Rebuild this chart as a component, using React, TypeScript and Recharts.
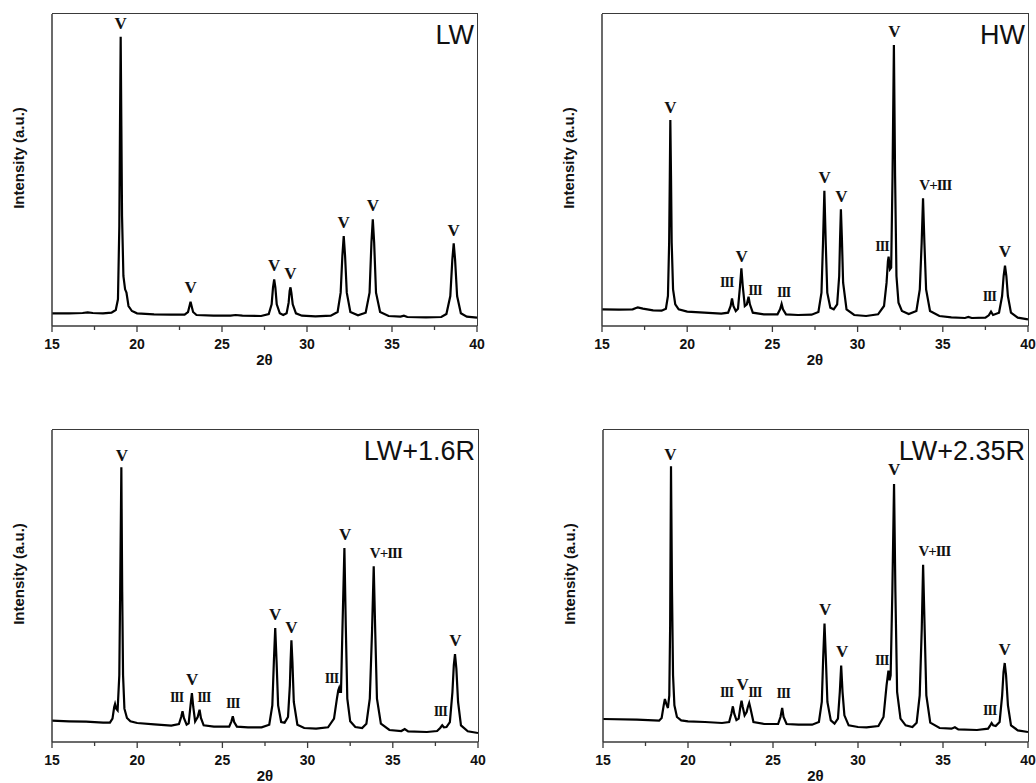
import React from 'react';
import { ComposedChart, Line, Scatter, XAxis, YAxis, ReferenceArea, Label } from 'recharts';

type Pt = [number, number];
type Mark = [number, number, string];

// Intensity in arbitrary units (0..936 spans the plot height)
const lwCurve: Pt[] = [
  [15, 38], [16, 38], [16.8, 39], [17.1, 41], [17.4, 39], [18, 38], [18.5, 40],
  [18.75, 48], [18.88, 80], [18.96, 300], [19.0, 600], [19.04, 868], [19.08, 600], [19.12, 330], [19.2, 150],
  [19.3, 110], [19.38, 100], [19.5, 60], [19.7, 45], [20, 38],
  [21, 35], [22, 34], [22.8, 34], [23.0, 42], [23.1, 62], [23.15, 73], [23.2, 62], [23.3, 42], [23.5, 33],
  [24.5, 31], [25.5, 31], [25.8, 33], [26.2, 31], [27.3, 30], [27.75, 36], [27.92, 65], [28.0, 115], [28.07, 140],
  [28.14, 115], [28.22, 65], [28.4, 38], [28.6, 33],
  [28.8, 38], [28.92, 70], [28.98, 105], [29.03, 116], [29.08, 100], [29.16, 65], [29.35, 38], [29.7, 31],
  [30.5, 29], [31.4, 31], [31.8, 42], [31.98, 100], [32.08, 210], [32.16, 270], [32.24, 210], [32.34, 100], [32.55, 42], [33.0, 32],
  [33.45, 40], [33.68, 100], [33.79, 250], [33.87, 320], [33.95, 250], [34.06, 100], [34.3, 42], [34.8, 30],
  [35.5, 28], [35.7, 31], [35.9, 27], [37, 26], [37.9, 27], [38.2, 36], [38.43, 90], [38.55, 200], [38.63, 248],
  [38.71, 200], [38.83, 90], [39.05, 38], [39.4, 28], [40, 25],
];

const hwCurve: Pt[] = [
  [15, 50], [16, 49], [16.8, 50], [17.1, 56], [17.4, 52], [18, 47], [18.5, 46],
  [18.75, 52], [18.87, 90], [18.94, 250], [18.98, 450], [19.01, 618], [19.05, 450], [19.09, 250], [19.17, 110],
  [19.3, 65], [19.5, 50], [20, 43], [21, 40], [22, 37],
  [22.4, 40], [22.55, 60], [22.63, 83], [22.71, 60], [22.85, 45],
  [22.98, 52], [23.1, 120], [23.18, 173], [23.26, 120], [23.38, 60],
  [23.5, 65], [23.6, 88], [23.68, 65], [23.85, 40], [24.5, 35],
  [25.3, 35], [25.45, 50], [25.54, 66], [25.62, 50], [25.8, 35], [26.5, 33], [27.3, 34],
  [27.7, 42], [27.88, 100], [27.97, 250], [28.05, 406], [28.13, 250], [28.22, 100], [28.4, 55], [28.6, 50],
  [28.8, 65], [28.92, 150], [28.97, 260], [29.02, 350], [29.08, 260], [29.15, 130], [29.35, 50], [29.8, 33],
  [30.5, 30], [31.2, 35], [31.55, 60], [31.7, 130], [31.78, 195], [31.82, 208], [31.9, 170], [31.97, 175],
  [32.05, 450], [32.13, 843], [32.2, 450], [32.28, 150], [32.4, 70], [32.6, 45], [33, 36],
  [33.45, 45], [33.65, 110], [33.76, 250], [33.84, 383], [33.92, 250], [34.02, 110], [34.25, 45], [34.8, 30],
  [35.5, 26], [36.3, 24], [36.5, 27], [36.7, 24], [37.5, 25],
  [37.7, 32], [37.83, 43], [37.95, 33],
  [38.3, 40], [38.48, 90], [38.57, 150], [38.65, 181], [38.73, 150], [38.82, 90], [39.0, 40], [39.4, 25], [40, 20],
];

const lw16Curve: Pt[] = [
  [15, 64], [16, 62], [17, 61], [18, 58], [18.4, 58],
  [18.55, 70], [18.65, 105], [18.7, 114], [18.77, 100], [18.85, 95], [18.95, 200], [19.0, 450], [19.07, 824],
  [19.12, 450], [19.17, 200], [19.25, 100], [19.4, 72], [19.6, 62], [20, 57], [21, 53], [22, 49],
  [22.45, 54], [22.58, 75], [22.66, 92], [22.74, 72], [22.9, 52],
  [23.02, 56], [23.13, 110], [23.21, 147], [23.29, 105], [23.4, 62],
  [23.55, 75], [23.66, 97], [23.74, 72], [23.9, 50], [24.5, 46],
  [25.4, 46], [25.53, 62], [25.61, 77], [25.69, 60], [25.85, 46], [26.5, 44], [27.3, 44],
  [27.75, 52], [27.93, 110], [28.02, 240], [28.1, 342], [28.18, 240], [28.27, 110], [28.45, 60], [28.65, 58],
  [28.85, 75], [28.96, 170], [29.0, 240], [29.05, 305], [29.11, 240], [29.19, 120], [29.4, 52], [29.8, 42],
  [30.5, 40], [31.2, 44], [31.55, 70], [31.72, 130], [31.8, 155], [31.85, 162], [31.9, 150], [31.96, 150],
  [32.05, 350], [32.16, 582], [32.24, 350], [32.33, 130], [32.5, 62], [32.8, 45], [33.2, 42],
  [33.45, 55], [33.65, 130], [33.78, 330], [33.88, 527], [33.97, 330], [34.07, 130], [34.3, 55], [34.8, 36],
  [35.5, 33], [35.7, 39], [35.9, 32], [37, 30], [37.6, 33],
  [37.78, 42], [37.9, 50], [38.0, 44], [38.15, 45],
  [38.35, 60], [38.5, 150], [38.58, 230], [38.65, 264], [38.73, 220], [38.83, 120], [39.0, 50], [39.4, 32], [40, 27],
];

const lw235Curve: Pt[] = [
  [15, 69], [17, 67], [18.3, 64],
  [18.45, 72], [18.57, 110], [18.64, 129], [18.72, 115], [18.82, 102], [18.9, 140], [18.95, 350], [19.0, 827],
  [19.06, 450], [19.12, 200], [19.2, 110], [19.35, 75], [19.6, 65], [20, 62], [21, 60], [22, 57],
  [22.42, 60], [22.55, 85], [22.64, 107], [22.72, 85], [22.85, 66],
  [22.98, 70], [23.08, 105], [23.15, 124], [23.22, 105], [23.33, 80], [23.45, 90],
  [23.52, 105], [23.6, 117], [23.68, 100], [23.85, 60], [24.5, 54],
  [25.3, 54], [25.44, 75], [25.54, 102], [25.62, 75], [25.8, 54], [26.5, 52], [27.3, 52],
  [27.7, 60], [27.87, 120], [27.95, 250], [28.03, 355], [28.11, 250], [28.2, 120], [28.4, 65], [28.62, 55],
  [28.82, 70], [28.93, 150], [29.01, 229], [29.09, 150], [29.2, 80], [29.45, 50], [30, 45],
  [30.5, 44], [31.2, 48], [31.5, 75], [31.68, 170], [31.79, 214], [31.86, 185], [31.92, 200],
  [32.02, 450], [32.12, 774], [32.2, 450], [32.3, 150], [32.5, 70], [32.8, 50], [33.2, 45],
  [33.45, 58], [33.63, 140], [33.75, 340], [33.83, 532], [33.92, 340], [34.02, 140], [34.25, 58], [34.8, 42],
  [35.5, 40], [35.7, 44], [35.9, 38], [37, 36], [37.65, 40],
  [37.78, 50], [37.86, 57], [37.95, 50], [38.1, 48],
  [38.33, 60], [38.48, 140], [38.56, 210], [38.63, 237], [38.71, 200], [38.82, 110], [39.0, 50], [39.4, 35], [40, 30],
];

// Phase labels: [2θ, label baseline intensity, text]
const lwMarks: Mark[] = [
  [19.04, 890, 'V'], [23.15, 98, 'V'], [28.07, 166, 'V'], [29.03, 140, 'V'],
  [32.16, 295, 'V'], [33.87, 345, 'V'], [38.63, 270, 'V'],
];
const hwMarks: Mark[] = [
  [19.01, 640, 'V'], [22.32, 118, 'III'], [23.2, 193, 'V'], [23.98, 93, 'III'], [25.66, 88, 'III'],
  [28.07, 428, 'V'], [29.05, 371, 'V'], [31.43, 226, 'III'], [32.16, 868, 'V'], [34.56, 408, 'V+III'],
  [37.73, 75, 'III'], [38.65, 208, 'V'],
];
const lw16Marks: Mark[] = [
  [19.1, 844, 'V'], [22.31, 119, 'III'], [23.23, 172, 'V'], [23.91, 119, 'III'], [25.61, 102, 'III'],
  [28.1, 365, 'V'], [29.05, 327, 'V'], [31.4, 177, 'III'], [32.2, 607, 'V'], [34.59, 552, 'V+III'],
  [37.79, 77, 'III'], [38.67, 287, 'V'],
];
const lw235Marks: Mark[] = [
  [18.96, 845, 'V'], [22.27, 135, 'III'], [23.21, 157, 'V'], [23.93, 135, 'III'], [25.6, 132, 'III'],
  [28.07, 382, 'V'], [29.07, 254, 'V'], [31.4, 232, 'III'], [32.12, 802, 'V'], [34.49, 557, 'V+III'],
  [37.75, 82, 'III'], [38.63, 262, 'V'],
];

const xTicks = [15, 17.5, 20, 22.5, 25, 27.5, 30, 32.5, 35, 37.5, 40];
const xDomain: [number, number] = [15, 40];
const yDomain: [number, number] = [0, 936];
const panelTitles = ['LW', 'HW', 'LW+1.6R', 'LW+2.35R'];
const xTitle = '2θ';
const yTitle = 'Intensity (a.u.)';

const FRAME = '#3a3a3a';
const INK = '#111';
const SANS = '"Liberation Sans", Arial, sans-serif';
const SERIF = '"Liberation Serif", "Times New Roman", serif';
const frameLine = { stroke: FRAME, strokeWidth: 1.5 };

const Tick = (props: any) => {
  const { x, y, payload } = props;
  const v = payload.value as number;
  const major = Math.abs(v % 5) < 1e-6;
  return (
    <g>
      <line x1={x} x2={x} y1={y} y2={y + (major ? 6 : 4)} stroke={FRAME} strokeWidth={1.3} />
      {major && (
        <text x={x} y={y + 23} textAnchor="middle" fontFamily={SANS} fontWeight="bold" fontSize={14} fill={INK}>
          {v}
        </text>
      )}
    </g>
  );
};

const MarkShape = (props: any) => {
  const { cx, cy, payload } = props;
  const t = payload.t as string;
  if (t === 'V') {
    return (
      <text x={cx} y={cy} textAnchor="middle" fontFamily={SERIF} fontWeight="bold" fontSize={17} fill={INK}>V</text>
    );
  }
  return (
    <text x={cx} y={cy} textAnchor="middle" fontFamily={SERIF} fontWeight="bold" fontSize={t === 'III' ? 14 : 15} letterSpacing={-1} fill={INK}>{t}</text>
  );
};

interface PanelProps {
  curve: Pt[];
  marks: Mark[];
  title: string;
  left: number;
  top: number;
  width: number;
  height: number;
  margin: { top: number; right: number; bottom: number; left: number };
  yAxisWidth: number;
  xAxisHeight: number;
}

const Panel = ({ curve, marks, title, left, top, width, height, margin, yAxisWidth, xAxisHeight }: PanelProps) => {
  const data = curve.map(([x, y]) => ({ x, y }));
  const markData = marks.map(([x, y, t]) => ({ x, y, t }));
  const plotLeft = margin.left + yAxisWidth;
  const plotRight = width - margin.right;
  const plotTop = margin.top;
  const plotBottom = height - margin.bottom - xAxisHeight;
  const plotMidY = (plotTop + plotBottom) / 2;
  return (
    <div style={{ position: 'absolute', left, top, width, height }}>
      <ComposedChart width={width} height={height} margin={margin}>
        <XAxis
          dataKey="x"
          type="number"
          domain={xDomain}
          ticks={xTicks}
          interval={0}
          allowDataOverflow
          axisLine={frameLine}
          tickLine={false}
          tickSize={0}
          tickMargin={0}
          height={xAxisHeight}
          tick={<Tick />}
          label={{
            content: () => (
              <text x={(plotLeft + plotRight) / 2} y={plotBottom + 39} textAnchor="middle" fontFamily={SANS} fontWeight="bold" fontSize={15} fill={INK}>
                {xTitle}
              </text>
            ),
          }}
        />
        <YAxis
          type="number"
          domain={yDomain}
          allowDataOverflow
          width={yAxisWidth}
          tick={false}
          tickLine={false}
          axisLine={frameLine}
          label={{
            content: () => (
              <text
                x={plotLeft - 28}
                y={plotMidY - 12}
                transform={`rotate(-90, ${plotLeft - 28}, ${plotMidY - 12})`}
                textAnchor="middle"
                fontFamily={SANS}
                fontWeight="bold"
                fontSize={15}
                fill={INK}
              >
                {yTitle}
              </text>
            ),
          }}
        />
        <ReferenceArea x1={xDomain[0]} x2={xDomain[1]} y1={yDomain[0]} y2={yDomain[1]} fill="none" fillOpacity={0} stroke="none" ifOverflow="visible">
          <Label
            content={() => (
              <text x={plotRight - 3} y={plotTop + 30} textAnchor="end" fontFamily={SANS} fontSize={27} fill={INK}>
                {title}
              </text>
            )}
          />
        </ReferenceArea>
        <Line data={data} dataKey="y" type="linear" stroke="#000" strokeWidth={2.2} dot={false} activeDot={false} isAnimationActive={false} />
        <Scatter data={markData} dataKey="y" shape={<MarkShape />} isAnimationActive={false} />
      </ComposedChart>
      {/* top and right edges of the plot frame */}
      <div
        style={{
          position: 'absolute',
          left: plotLeft,
          top: plotTop - 0.75,
          width: plotRight - plotLeft + 0.75,
          height: plotBottom - plotTop + 0.75,
          boxSizing: 'border-box',
          borderTop: `1.5px solid ${FRAME}`,
          borderRight: `1.5px solid ${FRAME}`,
          pointerEvents: 'none',
        }}
      />
    </div>
  );
};

export default function App() {
  return (
    <div style={{ position: 'absolute', left: 0, top: 0, width: 1036, height: 783, background: '#fff', overflow: 'hidden' }}>
      <Panel curve={lwCurve} marks={lwMarks} title={panelTitles[0]} left={0} top={0} width={518} height={390}
        margin={{ top: 14, right: 41, bottom: 24, left: 0 }} yAxisWidth={52} xAxisHeight={40} />
      <Panel curve={hwCurve} marks={hwMarks} title={panelTitles[1]} left={518} top={0} width={518} height={390}
        margin={{ top: 14, right: 8, bottom: 24, left: 0 }} yAxisWidth={84} xAxisHeight={40} />
      <Panel curve={lw16Curve} marks={lw16Marks} title={panelTitles[2]} left={0} top={390} width={518} height={393}
        margin={{ top: 40, right: 40, bottom: 1, left: 0 }} yAxisWidth={52} xAxisHeight={40} />
      <Panel curve={lw235Curve} marks={lw235Marks} title={panelTitles[3]} left={518} top={390} width={518} height={393}
        margin={{ top: 40, right: 8, bottom: 1, left: 0 }} yAxisWidth={85} xAxisHeight={40} />
    </div>
  );
}
